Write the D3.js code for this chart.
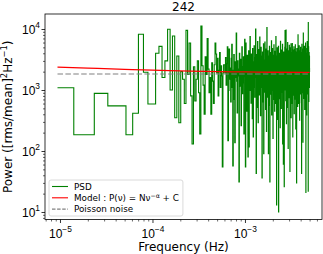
<!DOCTYPE html>
<html>
<head>
<meta charset="utf-8">
<script src="https://cdn.jsdelivr.net/npm/d3@7/dist/d3.min.js"></script>
<style>
  body { margin: 0; background: #fff; }
  svg { display: block; font-family: "DejaVu Sans", sans-serif; }
</style>
</head>
<body>
<div id="chart"></div>
<script>
const chartTitle = "242";
const xLabel = "Frequency (Hz)";

// periodogram: bin k sits at k * freqStep (k = 1..N), powers
const freqStep = 9.4e-6;
const psdPower = [
  1090, 185, 880, 550, 550, 185, 415, 8200, 1950, 590, 590, 4000, 5200, 1600, 3000,
  9900, 1000, 7700, 350, 3600, 290, 2000, 1500, 600, 9500, 1800, 5900, 800, 130, 2400, 660, 1500, 3000, 900, 190,
  11200, 2500, 1200, 400, 3500, 1800, 7000, 2200, 900, 1600, 400, 2800, 1400, 600, 2600, 5900, 3900, 1900, 3300, 800, 2100, 4100, 1100, 2500, 1700, 55, 1900, 2600,
  2600, 1900, 3400, 1200, 2700, 5100, 148, 980, 4700, 1500, 2300, 640, 3300, 5600, 1100, 57, 2100, 3800, 700, 137,
  2900, 1600, 8600, 1400, 420, 3000, 2200, 1700, 31, 4000, 2500, 1150, 3200, 260, 1900, 5100, 870, 2400, 1300, 3500,
  190, 2800, 6800, 1700, 55, 5900, 1200, 2600, 450, 3700, 1500, 80, 2300, 4400, 117, 1900, 3100, 7500, 980, 2100,
  610, 3900, 1400, 2500, 340, 4800, 1800, 170, 2900, 1100, 5300, 2200, 760, 3400, 1600, 10000, 2700, 43, 1300, 3800,
  520, 2400, 6200, 1700, 290, 3300, 1200, 4600, 2000, 830, 7400, 1500, 2800, 380, 1900, 5000, 1100, 3600, 2300, 36,
  1700, 4200, 640, 2600, 1400, 5700, 90, 3100, 1800, 920, 2500, 6100, 1300, 3900, 480, 2200, 1600, 4700, 210, 2900,
  10600, 1500, 3300, 760, 2100, 4400, 1200, 90, 3600, 1900, 2700, 560, 5200, 1400, 31, 3000, 2300, 1700, 4100, 850,
  2600, 1300, 6400, 390, 2200, 3500, 1600, 4800, 1000, 2900, 160, 1800, 3700, 2400, 700, 5500, 1400, 2000, 3200, 450,
  1700, 4300, 2600, 1100, 3000, 600, 7500, 1900, 2300, 1500, 13, 3600, 1200, 2700, 4900, 850, 2100, 330, 3400, 1600,
  2500, 5200, 10, 1800, 3100, 1300, 2200, 4000, 720, 2800, 1500, 3500, 240, 2000, 6300, 1100, 2600, 1700, 3900, 500,
  2300, 1400, 4500, 2000, 930, 3200, 1800, 5600, 130, 2700, 1200, 3800, 2100, 61, 1600, 4200, 2500, 790, 3000, 26,
  1900, 3400, 1300, 5000, 2200, 9400, 1000, 2800, 1600, 4300, 670, 2400, 9600, 1500, 3600, 280, 2000, 4700, 1200, 2900,
  1700, 3300, 520, 2500, 6000, 1400, 2100, 3900, 110, 1800, 2700, 1000, 4400, 2300, 1600, 3100, 750, 5400, 1900, 2600,
  1300, 3700, 46, 2200, 1500, 4900, 2800, 880, 3500, 1700, 2400, 5700, 350, 2000, 3000, 1200, 4100, 2500, 1600, 3400,
  600, 2100, 5800, 1400, 2900, 1900, 170, 3600, 2300, 1100, 4500, 2600, 1700, 3200, 820, 2000, 5100, 1500, 2700, 410,
  3900, 1800, 2400, 1300, 4600, 2100, 710, 3300, 1600, 5500, 2500, 1000, 3000, 230, 1900, 4200, 2200, 1400, 3600, 1700,
  2800, 30, 2000, 4800, 1500, 3200, 2400, 940, 3800, 1800, 2600, 540, 4300, 2100, 1300, 8000, 1700, 2900, 3500, 1100,
  2300, 4600, 600, 1900, 3100, 1600, 2500, 5300, 1200, 2000, 3700, 320, 2700, 1800, 4400, 1400, 2200, 3300, 860, 2600,
  1700, 5000, 2100, 1500, 3800, 2400, 1100, 4100, 1900, 2800, 620, 3400, 43, 2300, 1600, 5600, 2000, 1300, 3100, 2500,
  900, 4700, 1800, 2600, 3500, 1400, 2200, 140, 3000, 1700, 2400, 8600, 1500, 2900, 1900, 3600, 730, 2100, 4300, 1600,
  2700, 1200, 3300, 2000, 5200, 1500, 2500, 480, 3900, 1800, 2300, 1000, 4500, 2600, 1700, 3100, 2200, 5900, 1300, 2800,
  1900, 21, 3400, 1600, 2400, 4000, 1100, 2100, 3700, 1500, 2700, 390, 4800, 1800, 2300, 3200, 1400, 6200, 2000, 2600,
  1200, 3500, 1700, 2900, 4400, 860, 2200, 1600, 3800, 2500, 22, 12700, 1800, 3000, 1400, 5100, 2100, 2700, 650, 3300,
  1900, 2400, 4100, 1500, 2800, 1100, 3600, 2000, 2300
];

// fitted model, sampled off the red curve
const modelFreq = [9.4e-6, 2e-5, 5e-5, 1e-4, 2e-4, 5e-4, 1e-3, 2e-3, 5e-3];
const modelPower = [2380, 2290, 2180, 2110, 2060, 2000, 1975, 1955, 1945];
const poissonLevel = 1830;

const xTickExps = [-5, -4, -3];
const yTickExps = [1, 2, 3, 4];
const legendLabels = ["PSD", "Model", "Poisson noise"];

const W = 323, H = 254;
const plotL = 45, plotR = 322, plotT = 14, plotB = 219.5;

const svg = d3.select("#chart").append("svg")
  .attr("width", W)
  .attr("height", H);

const x = d3.scaleLog()
  .domain([Math.pow(10, -5.162), Math.pow(10, -2.167)])
  .range([plotL, plotR]);
const y = d3.scaleLog()
  .domain([Math.pow(10, 0.877), Math.pow(10, 4.246)])
  .range([plotB, plotT]);

svg.append("clipPath").attr("id", "plot-clip")
  .append("rect")
  .attr("x", plotL).attr("y", plotT)
  .attr("width", plotR - plotL).attr("height", plotB - plotT);

const plot = svg.append("g").attr("clip-path", "url(#plot-clip)");

// step with where='mid' (midpoints in data space like matplotlib)
const psd = psdPower.map((p, i) => [(i + 1) * freqStep, p]);
const stepPts = [psd[0]];
for (let i = 0; i < psd.length - 1; i++) {
  const mid = (psd[i][0] + psd[i + 1][0]) / 2;
  stepPts.push([mid, psd[i][1]], [mid, psd[i + 1][1]]);
}
stepPts.push(psd[psd.length - 1]);

const line = d3.line().x(d => x(d[0])).y(d => y(d[1]));

plot.append("path")
  .attr("d", line(stepPts))
  .attr("fill", "none")
  .attr("stroke", "#008000")
  .attr("stroke-width", 1.1)
  .attr("stroke-linejoin", "miter");

plot.append("path")
  .attr("d", line.curve(d3.curveMonotoneX)(modelFreq.map((f, i) => [f, modelPower[i]])))
  .attr("fill", "none")
  .attr("stroke", "#ff0000")
  .attr("stroke-width", 1.3);
line.curve(d3.curveLinear);

plot.append("path")
  .attr("d", line([[psd[0][0], poissonLevel], [psd[psd.length - 1][0], poissonLevel]]))
  .attr("fill", "none")
  .attr("stroke", "#808080")
  .attr("stroke-width", 1.1)
  .attr("stroke-dasharray", "5.5,2.4");

// minor ticks
const minorX = [], minorY = [];
for (let e = -6; e <= -2; e++) for (let m = 2; m <= 9; m++) minorX.push(m * Math.pow(10, e));
for (let e = 0; e <= 4; e++) for (let m = 2; m <= 9; m++) minorY.push(m * Math.pow(10, e));
const [xd0, xd1] = x.domain(), [yd0, yd1] = y.domain();

svg.append("g")
  .attr("transform", `translate(0,${plotB})`)
  .call(d3.axisBottom(x).tickValues(minorX.filter(v => v >= xd0 && v <= xd1)).tickSize(2).tickFormat(""))
  .call(g => g.select(".domain").remove())
  .call(g => g.selectAll("line").attr("stroke-width", 0.6));

svg.append("g")
  .attr("transform", `translate(${plotL},0)`)
  .call(d3.axisLeft(y).tickValues(minorY.filter(v => v >= yd0 && v <= yd1)).tickSize(2).tickFormat(""))
  .call(g => g.select(".domain").remove())
  .call(g => g.selectAll("line").attr("stroke-width", 0.6));

// major ticks with 10^n labels
const xAxis = svg.append("g")
  .attr("transform", `translate(0,${plotB})`)
  .call(d3.axisBottom(x).tickValues(xTickExps.map(e => Math.pow(10, e))).tickSize(3.5).tickPadding(3.5))
  .call(g => g.select(".domain").remove())
  .call(g => g.selectAll("line").attr("stroke-width", 0.8));
xAxis.selectAll("text").each(function(d, i) {
  const t = d3.select(this).text(null)
    .attr("font-size", 12).attr("fill", "#000")
    .attr("dy", null).attr("y", 18.3);
  t.append("tspan").text("10");
  t.append("tspan").attr("font-size", 8.4).attr("dy", -5.8).text("\u2212" + Math.abs(xTickExps[i]));
});

const yAxis = svg.append("g")
  .attr("transform", `translate(${plotL},0)`)
  .call(d3.axisLeft(y).tickValues(yTickExps.map(e => Math.pow(10, e))).tickSize(3.5).tickPadding(3.5))
  .call(g => g.select(".domain").remove())
  .call(g => g.selectAll("line").attr("stroke-width", 0.8));
yAxis.selectAll("text").each(function(d, i) {
  const t = d3.select(this).text(null)
    .attr("font-size", 12).attr("fill", "#000")
    .attr("dy", null).attr("y", 4.4).attr("x", -5);
  t.append("tspan").text("10");
  t.append("tspan").attr("font-size", 8.4).attr("dy", -5.8).text(yTickExps[i]);
});

// frame
svg.append("rect")
  .attr("x", plotL).attr("y", plotT)
  .attr("width", plotR - plotL).attr("height", plotB - plotT)
  .attr("fill", "none").attr("stroke", "#000").attr("stroke-width", 0.8);

// title and axis labels
svg.append("text")
  .attr("x", (plotL + plotR) / 2).attr("y", 10.5)
  .attr("text-anchor", "middle").attr("font-size", 12)
  .text(chartTitle);

svg.append("text")
  .attr("x", (plotL + plotR) / 2).attr("y", 250.8)
  .attr("text-anchor", "middle").attr("font-size", 12)
  .text(xLabel);

const yl = svg.append("text")
  .attr("transform", `translate(11.5,${(plotT + plotB) / 2}) rotate(-90)`)
  .attr("text-anchor", "middle").attr("font-size", 12);
yl.append("tspan").text("Power ([rms/mean]");
yl.append("tspan").attr("font-size", 8.4).attr("dy", -5).text("2");
yl.append("tspan").attr("dy", 5).text("Hz");
yl.append("tspan").attr("font-size", 8.4).attr("dy", -5).text("\u22121");
yl.append("tspan").attr("dy", 5).text(")");

// legend
const lg = svg.append("g");
const box = lg.append("rect")
  .attr("x", 49).attr("y", 180).attr("height", 36).attr("rx", 2)
  .attr("fill", "#fff").attr("fill-opacity", 0.8)
  .attr("stroke", "#d0d0d0").attr("stroke-width", 0.8);
const legendStyle = [
  { stroke: "#008000", dash: null },
  { stroke: "#ff0000", dash: null },
  { stroke: "#808080", dash: "3.5,1.6" }
];
let textRight = 0;
legendLabels.forEach((lab, i) => {
  const cy = 186.5 + i * 11.3;
  lg.append("line")
    .attr("x1", 52).attr("x2", 68).attr("y1", cy).attr("y2", cy)
    .attr("stroke", legendStyle[i].stroke).attr("stroke-width", 1.1)
    .attr("stroke-dasharray", legendStyle[i].dash);
  const t = lg.append("text").attr("x", 74).attr("y", cy + 3.1).attr("font-size", 8.8);
  if (i === 1) {
    t.append("tspan").text("Model : P(\u03bd) = N\u03bd");
    t.append("tspan").attr("font-size", 6.2).attr("dy", -3.4).text("\u2212\u03b1");
    t.append("tspan").attr("dy", 3.4).text(" + C");
  } else {
    t.text(lab);
  }
  textRight = Math.max(textRight, 74 + t.node().getComputedTextLength());
});
box.attr("width", textRight + 4 - 49);
</script>
</body>
</html>
